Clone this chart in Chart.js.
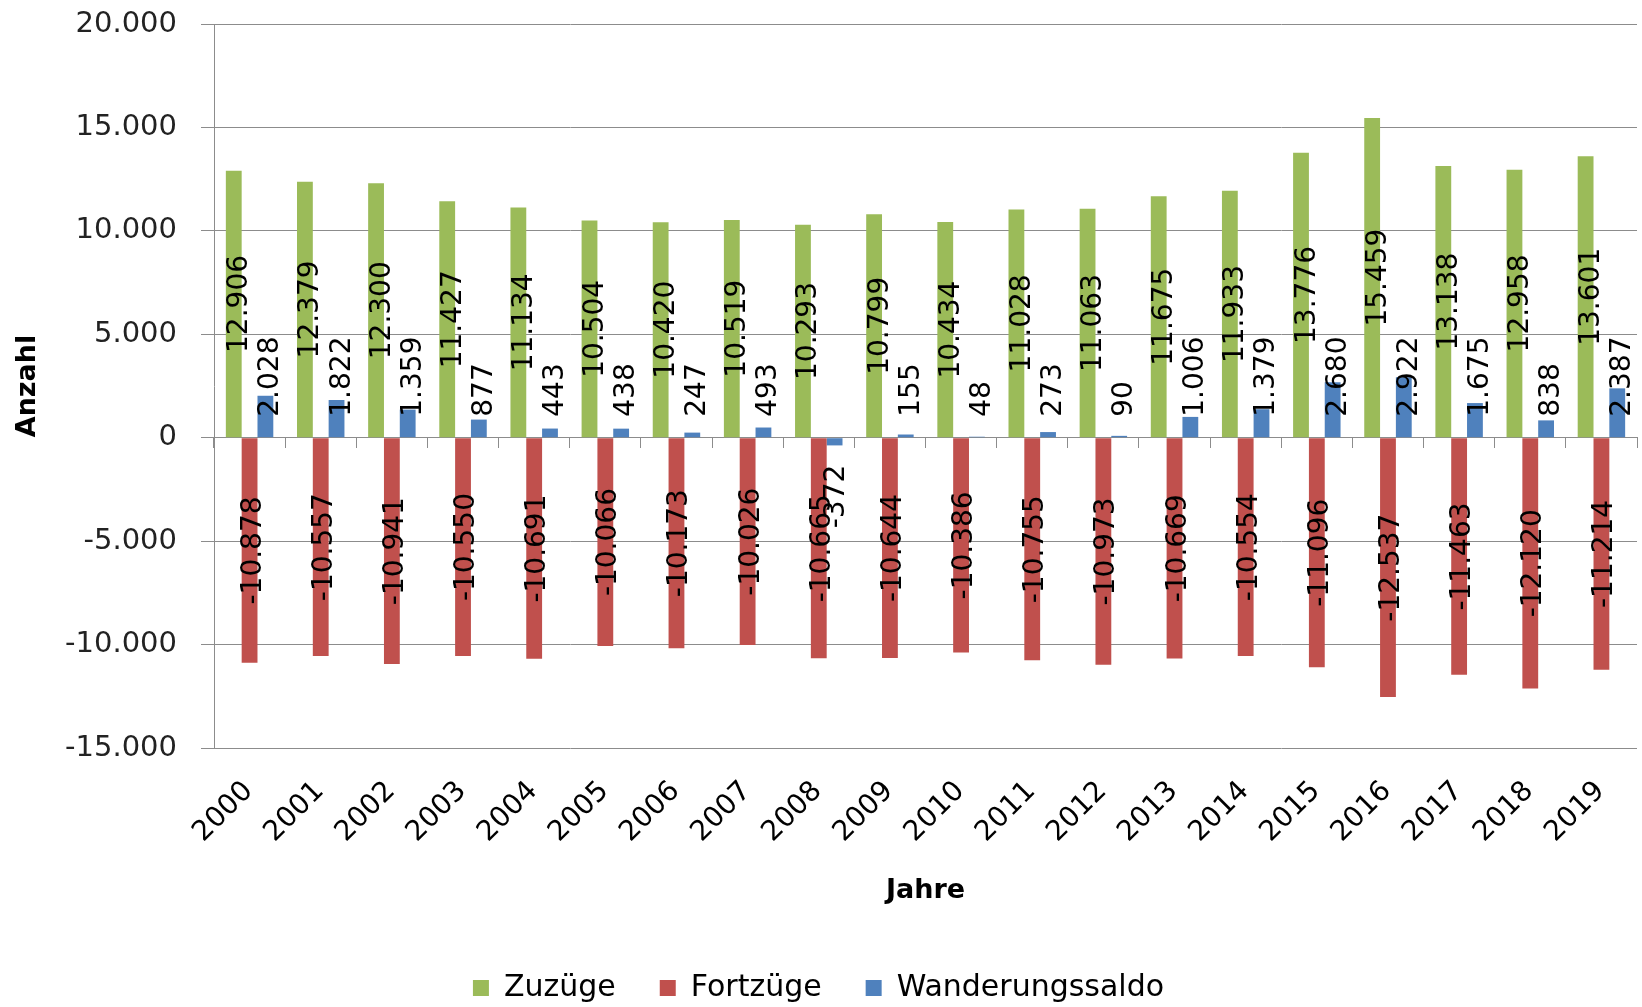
<!DOCTYPE html>
<html>
<head>
<meta charset="utf-8">
<script src="https://cdn.jsdelivr.net/npm/chart.js@4/dist/chart.umd.min.js"></script>
<style>
  body { margin: 0; background: #fff; }
  canvas { display: block; }
</style>
</head>
<body>
<canvas id="wanderungChart" width="1642" height="1007"></canvas>
<script>
const years = ['2000', '2001', '2002', '2003', '2004', '2005', '2006', '2007', '2008', '2009',
               '2010', '2011', '2012', '2013', '2014', '2015', '2016', '2017', '2018', '2019'];
const zuzuege = [12906, 12379, 12300, 11427, 11134, 10504, 10420, 10519, 10293, 10799,
                 10434, 11028, 11063, 11675, 11933, 13776, 15459, 13138, 12958, 13601];
const fortzuege = [-10878, -10557, -10941, -10550, -10691, -10066, -10173, -10026, -10665, -10644,
                   -10386, -10755, -10973, -10669, -10554, -11096, -12537, -11463, -12120, -11214];
const saldo = [2028, 1822, 1359, 877, 443, 438, 247, 493, -372, 155,
               48, 273, 90, 1006, 1379, 2680, 2922, 1675, 838, 2387];
const yTicks = [-15000, -10000, -5000, 0, 5000, 10000, 15000, 20000];

const gridGray = '#8c8c8c';
const fontFamily = "'DejaVu Sans', sans-serif";

// German number format: 12906 -> 12.906
function formatNumber(v) {
    const sign = v < 0 ? '-' : '';
    return sign + String(Math.abs(v)).replace(/\B(?=(\d{3})+(?!\d))/g, '.');
}

// rotated value labels, placed like the Excel original
const valueLabels = {
    id: 'valueLabels',
    afterDatasetsDraw(chart) {
        const ctx = chart.ctx;
        const zeroY = chart.scales.y.getPixelForValue(0);
        ctx.save();
        ctx.font = '28px ' + fontFamily;
        ctx.fillStyle = '#000';
        ctx.textBaseline = 'alphabetic';
        chart.data.datasets.forEach((ds, di) => {
            const meta = chart.getDatasetMeta(di);
            meta.data.forEach((bar, i) => {
                const v = ds.data[i];
                let x, y, align;
                if (di === 2) {
                    if (v >= 0) {
                        x = bar.x + 13; y = zeroY - 21; align = 'left';
                    } else {
                        x = bar.x + 9; y = zeroY + 27; align = 'right';
                    }
                } else {
                    x = bar.x + (di === 0 ? 13.5 : 11);
                    y = (bar.y + bar.base) / 2;
                    align = 'center';
                }
                ctx.save();
                ctx.translate(x, y);
                ctx.rotate(-Math.PI / 2);
                ctx.textAlign = align;
                ctx.fillText(formatNumber(v), 0, 0);
                ctx.restore();
            });
        });
        ctx.restore();
    }
};

Chart.defaults.font.family = fontFamily;
Chart.defaults.color = '#000';

new Chart(document.getElementById('wanderungChart'), {
    type: 'bar',
    data: {
        labels: years,
        datasets: [
            { label: 'Zuzüge', data: zuzuege, backgroundColor: '#9BBB59' },
            { label: 'Fortzüge', data: fortzuege, backgroundColor: '#C0504D' },
            { label: 'Wanderungssaldo', data: saldo, backgroundColor: '#4F81BD' }
        ]
    },
    options: {
        responsive: false,
        animation: false,
        devicePixelRatio: 1,
        layout: { padding: { top: 24, right: 5, bottom: -6, left: 0 } },
        datasets: {
            bar: { categoryPercentage: 0.667, barPercentage: 1.0, borderWidth: 0 }
        },
        plugins: {
            tooltip: { enabled: false },
            legend: {
                position: 'bottom',
                labels: {
                    font: { size: 30 },
                    color: '#000',
                    boxWidth: 16,
                    boxHeight: 16,
                    padding: 44
                }
            }
        },
        scales: {
            x: {
                grid: { display: false, drawTicks: false },
                border: { display: false },
                ticks: {
                    autoSkip: false,
                    minRotation: 45,
                    maxRotation: 45,
                    labelOffset: -1,
                    padding: 27,
                    font: { size: 28 },
                    color: '#000'
                },
                title: {
                    display: true,
                    text: 'Jahre',
                    font: { size: 27, weight: 'bold' },
                    color: '#000',
                    padding: { top: 0, bottom: 22 }
                },
                afterFit(scale) {
                    scale.height = 181;
                    scale.paddingLeft = 0;
                    scale.paddingRight = 0;
                }
            },
            xZero: {
                type: 'category',
                position: { y: 0 },
                offset: true,
                grid: {
                    offset: true,
                    drawOnChartArea: false,
                    tickLength: 10,
                    color: gridGray,
                    tickColor: gridGray
                },
                border: { color: gridGray },
                ticks: { display: false }
            },
            y: {
                min: -15000,
                max: 20000,
                afterBuildTicks(scale) {
                    scale.ticks = yTicks.map(v => ({ value: v }));
                },
                grid: {
                    color: gridGray,
                    tickColor: gridGray,
                    tickLength: 13
                },
                border: { color: gridGray },
                ticks: {
                    padding: 24,
                    font: { size: 29 },
                    color: '#222',
                    callback: v => formatNumber(v)
                },
                title: {
                    display: true,
                    text: 'Anzahl',
                    font: { size: 27, weight: 'bold' },
                    color: '#000',
                    padding: { top: 12, bottom: 0 }
                },
                afterFit(scale) {
                    scale.width = 214;
                    scale.paddingTop = 0;
                    scale.paddingBottom = 0;
                }
            }
        }
    },
    plugins: [valueLabels]
});
</script>
</body>
</html>
